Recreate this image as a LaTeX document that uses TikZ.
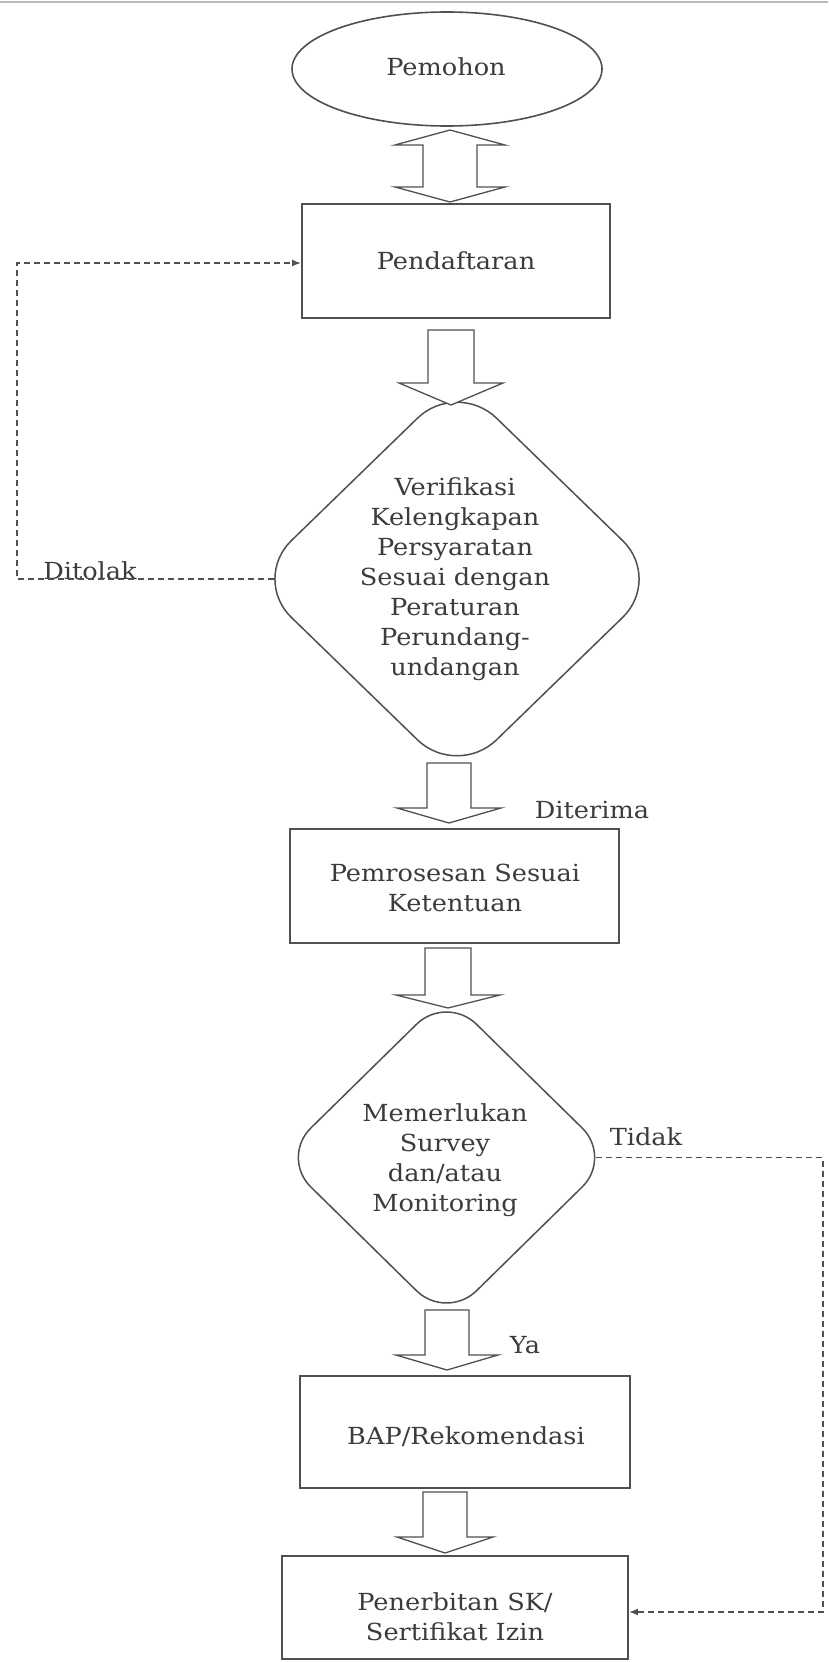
\documentclass[tikz,border=0pt]{standalone}
\usepackage{fontspec}
\setmainfont{DejaVu Serif}[FakeStretch=1.09]
\usetikzlibrary{shapes.geometric,arrows.meta}
\definecolor{ln}{RGB}{80,80,80}
\definecolor{tx}{RGB}{60,60,60}
\newcommand\bdarr[6]{%
  \draw[blockarrow] (#1-#5,#2) -- (#1+#5,#2) -- (#1+#5,#3) -- (#1+#6,#3) -- (#1,#4) -- (#1-#6,#3) -- (#1-#5,#3) -- cycle;}
\begin{document}
\begin{tikzpicture}[x=1pt,y=-1pt,
  font=\fontsize{23.5}{30}\selectfont,
  box/.style={draw=ln, line width=1.8pt, inner sep=0pt, text=tx, align=center},
  dia/.style={diamond, draw=ln, line width=1.5pt, inner sep=0pt, aspect=1},
  txt/.style={text=tx, align=center, inner sep=0pt},
  lbl/.style={text=tx, inner sep=0pt},
  blockarrow/.style={draw=ln, line width=1.3pt, fill=white, line join=miter},
  dline/.style={draw=ln, line width=1.7pt, dash pattern=on 6pt off 4pt, -{Latex[length=9pt,width=7pt]}}]
\useasboundingbox (0,0) rectangle (828,1662);
\fill[white] (0,0) rectangle (828,1662);
% top rule
\draw[gray!55, line width=2.5pt] (0,2) -- (828,2);

% nodes
\node[ellipse, draw=ln, line width=1.6pt, minimum width=310pt, minimum height=114pt, inner sep=0pt] (pem) at (447,69) {};
\node[txt] (pemt) at (446,67) {Pemohon};

\node[box, minimum width=308pt, minimum height=114pt] (pend) at (456,261) {Pendaftaran};

\node[dia, rounded corners=55pt, minimum width=411pt, minimum height=399pt] (ver) at (457,579) {};
\node[txt] (vert) at (455,579) {Verifikasi\\Kelengkapan\\Persyaratan\\Sesuai dengan\\Peraturan\\Perundang-\\undangan};

\node[box, minimum width=329pt, minimum height=114pt] (proc) at (454.5,886) {};
\node[txt] (proct) at (455,888) {Pemrosesan Sesuai\\Ketentuan};

\node[dia, rounded corners=42pt, minimum width=332pt, minimum height=326pt] (dec) at (446.5,1157.5) {};
\node[txt] (dect) at (445,1160) {Memerlukan\\Survey\\dan/atau\\Monitoring};

\node[box, minimum width=330pt, minimum height=112pt] (bap) at (465,1432) {};
\node[txt] (bapt) at (466,1437) {BAP/Rekomendasi};

\node[box, minimum width=346pt, minimum height=103pt] (pen) at (455,1607.5) {};
\node[txt] (pent) at (455,1617) {Penerbitan SK/\\Sertifikat Izin};

% labels
\node[lbl] (ditolak) at (90,571) {Ditolak};
\node[lbl] (diterima) at (592,810) {Diterima};
\node[lbl] (tidak) at (646,1137) {Tidak};
\node[lbl] (ya) at (525,1345) {Ya};

% double block arrow
\draw[blockarrow] (450,130) -- (505,145) -- (477,145) -- (477,187) -- (505,187) -- (450,202)
  -- (395,187) -- (423,187) -- (423,145) -- (395,145) -- cycle;
% block arrows
\bdarr{451}{330}{383}{405}{23}{52}
\bdarr{449}{763}{808}{823}{22}{52}
\bdarr{448}{948}{995}{1008}{23}{52}
\bdarr{447}{1310}{1355}{1370}{22}{51}
\bdarr{445}{1492}{1537}{1553}{22}{48}

% dashed connectors
\draw[dline] ([xshift=23pt]ver.west) -- ++(-257,0) |- ([yshift=-2pt]pend.west);
\draw[dline] ([xshift=-17.5pt]dec.east) -- ++(227,0) |- ([yshift=-4.5pt]pen.east);
\end{tikzpicture}
\end{document}
